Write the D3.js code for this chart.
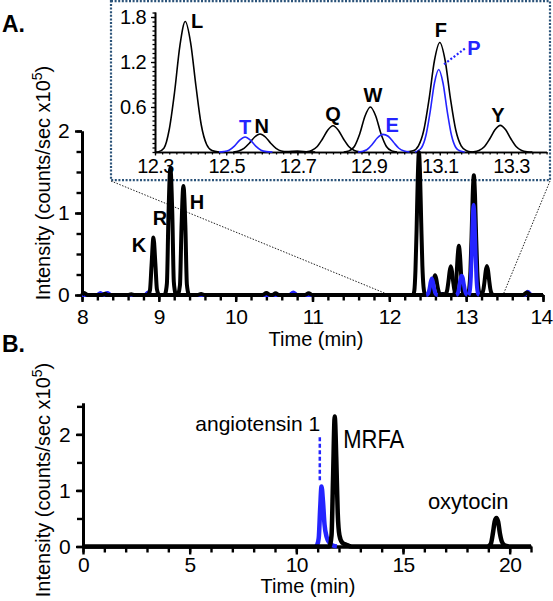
<!DOCTYPE html>
<html><head><meta charset="utf-8">
<script src="https://cdn.jsdelivr.net/npm/d3@7"></script>
<style>
body{margin:0;background:#fff}
svg{display:block}
text{font-family:"Liberation Sans",Arial,Helvetica,sans-serif;fill:#000}
</style>
</head><body>
<svg id="c" width="553" height="601"></svg>
<script>
// ---------- DATA (time in min, intensity in counts/sec x10^5) ----------
// Panel A - tick labels
const ticksAx = [8, 9, 10, 11, 12, 13, 14];
const ticksAy = [0, 1, 2];
const ticksInsetX = [12.3, 12.5, 12.7, 12.9, 13.1, 13.3];
const ticksInsetY = [0.6, 1.2, 1.8];
// Panel A - black extracted-ion traces
const peakK = [[8.86,0],[8.885,0.06],[8.905,0.36],[8.93,0.70],[8.955,0.38],[8.975,0.07],[9.0,0]];
const peakR = [[9.08,0],[9.105,0.14],[9.125,0.95],[9.15,1.55],[9.175,1.0],[9.195,0.16],[9.22,0]];
const peakH = [[9.25,0],[9.275,0.12],[9.295,0.82],[9.32,1.33],[9.345,0.85],[9.365,0.13],[9.39,0]];
const peakL = [[12.30,0],[12.31,0.004],[12.325,0.05],[12.34,0.30],[12.355,0.80],[12.37,1.42],[12.385,1.74],[12.40,1.46],[12.415,0.88],[12.43,0.36],[12.445,0.10],[12.46,0.02],[12.48,0]];
const peakN = [[12.52,0],[12.535,0.013],[12.55,0.048],[12.565,0.117],[12.58,0.20],[12.595,0.24],[12.61,0.20],[12.625,0.117],[12.64,0.048],[12.655,0.013],[12.67,0.006],[12.70,0.012],[12.73,0.003],[12.75,0]];
const peakQ = [[12.71,0],[12.725,0.004],[12.74,0.02],[12.755,0.07],[12.77,0.17],[12.785,0.29],[12.80,0.35],[12.815,0.29],[12.83,0.17],[12.845,0.07],[12.86,0.02],[12.875,0.004],[12.89,0]];
const peakW = [[12.83,0],[12.845,0.015],[12.86,0.074],[12.875,0.24],[12.89,0.48],[12.905,0.60],[12.92,0.48],[12.935,0.24],[12.95,0.074],[12.965,0.015],[12.98,0]];
const peakF = [[13.0,0],[13.025,0.016],[13.04,0.082],[13.055,0.29],[13.07,0.71],[13.085,1.22],[13.10,1.46],[13.115,1.22],[13.13,0.71],[13.145,0.29],[13.16,0.082],[13.175,0.016],[13.19,0]];
const peakY = [[13.18,0],[13.195,0.004],[13.21,0.02],[13.225,0.07],[13.24,0.173],[13.255,0.296],[13.27,0.355],[13.285,0.296],[13.30,0.173],[13.315,0.07],[13.33,0.02],[13.345,0.004],[13.36,0]];
const baseBlackA = [[8,0],[8.03,0.025],[8.07,0],[8.26,0],[8.3,0.015],[8.34,0],[8.6,0],[8.64,0.01],[8.68,0],[9.5,0],[9.55,0.012],[9.6,0],[10.35,0],[10.4,0.025],[10.45,0],[10.48,0],[10.52,0.02],[10.56,0],[10.9,0],[10.95,0.02],[11.0,0],[13.74,0],[13.79,0.03],[13.84,0],[14,0]];
// Panel A - blue extracted-ion traces
const peakT = [[12.48,0],[12.493,0.005],[12.508,0.024],[12.523,0.078],[12.538,0.158],[12.553,0.20],[12.568,0.158],[12.583,0.078],[12.598,0.024],[12.613,0.005],[12.63,0]];
const peakE = [[12.87,0],[12.88,0.006],[12.895,0.03],[12.91,0.10],[12.925,0.19],[12.94,0.235],[12.955,0.21],[12.97,0.13],[12.985,0.05],[13.0,0.012],[13.015,0]];
const peakP = [[13.03,0],[13.037,0.012],[13.049,0.06],[13.061,0.22],[13.073,0.54],[13.085,0.92],[13.097,1.10],[13.109,0.92],[13.121,0.54],[13.133,0.22],[13.145,0.06],[13.157,0.012],[13.17,0]];
const baseBlueA = [[8,0],[8.2,0],[8.24,0.025],[8.28,0],[8.33,0.025],[8.38,0],[8.82,0],[8.86,0.03],[8.9,0],[10.7,0],[10.75,0.03],[10.8,0],[12.64,0],[12.68,0.012],[12.72,0],[13.76,0],[13.8,0.04],[13.85,0],[14,0]];
// Panel B
const ticksBx = [0, 5, 10, 15, 20];
const ticksBy = [0, 1, 2];
const angiotensinB = [[10.9,0],[10.98,0.03],[11.05,0.15],[11.12,0.7],[11.18,1.07],[11.25,0.8],[11.32,0.4],[11.42,0.17],[11.55,0.07],[11.7,0.02],[11.9,0]];
const mrfaB = [[0,0],[11.55,0],[11.65,0.2],[11.72,1.2],[11.8,2.32],[11.87,1.6],[11.94,0.6],[12.02,0.2],[12.15,0.07],[12.35,0.03],[12.6,0],[21,0]];
const oxytocinB = [[19.0,0],[19.12,0.05],[19.22,0.25],[19.3,0.45],[19.38,0.51],[19.46,0.44],[19.54,0.24],[19.64,0.08],[19.78,0.015],[19.95,0]];

// ---------- DRAWING ----------
const svg = d3.select("#c");
const BLUE = "#2424ff", BOX = "#2b5379";
const fmtInt = d3.format("d"), fmt1 = d3.format(".1f");

const xA = d3.scaleLinear().domain([8,14]).range([82,543]);
const yA = d3.scaleLinear().domain([0,2]).range([295,131]);
const xI = d3.scaleLinear().domain([12.3,13.4]).range([155,546.6]);
const yI = d3.scaleLinear().domain([0,1.867]).range([152,12]);
const xB = d3.scaleLinear().domain([0,21]).range([83,531]);
const yB = d3.scaleLinear().domain([0,2.56]).range([546.5,403]);

function styleAxis(g, sw, fs){
  g.attr("font-family", null).attr("font-size", null);
  g.select(".domain").attr("stroke","#000").attr("stroke-width",sw);
  g.selectAll(".tick line").attr("stroke","#000").attr("stroke-width",sw*0.8);
  g.selectAll(".tick text").attr("font-size",fs).attr("fill","#000").attr("letter-spacing","-0.6px");
}

// ---- Inset box and connectors
svg.append("rect").attr("x",111).attr("y",1.2).attr("width",439).attr("height",179)
  .attr("fill","none").attr("stroke",BOX).attr("stroke-width",2.2).attr("stroke-dasharray","2,1.6");
svg.append("line").attr("x1",111).attr("y1",181).attr("x2",xA(12)).attr("y2",yA(0))
  .attr("stroke","#222").attr("stroke-width",1).attr("stroke-dasharray","1.5,1.5");
svg.append("line").attr("x1",550).attr("y1",181).attr("x2",xA(13.48)).attr("y2",yA(0))
  .attr("stroke","#222").attr("stroke-width",1).attr("stroke-dasharray","1.5,1.5");

// ---- Inset axes
const gIxm = svg.append("g").attr("transform",`translate(0,${yI(0)})`)
  .call(d3.axisBottom(xI).tickValues(d3.range(12.3,13.401,0.02)).tickSize(2.5).tickSizeOuter(0).tickFormat(""));
styleAxis(gIxm,1.6,20);
const gIx = svg.append("g").attr("transform",`translate(0,${yI(0)})`)
  .call(d3.axisBottom(xI).tickValues(ticksInsetX).tickSize(3.5).tickSizeOuter(0).tickPadding(3).tickFormat(fmt1));
styleAxis(gIx,1.6,20);
const gIym = svg.append("g").attr("transform",`translate(${xI(12.3)},0)`)
  .call(d3.axisLeft(yI).tickValues(d3.range(0,1.87,0.06)).tickSize(2.5).tickSizeOuter(0).tickFormat(""));
styleAxis(gIym,1.6,20);
const gIy = svg.append("g").attr("transform",`translate(${xI(12.3)},0)`)
  .call(d3.axisLeft(yI).tickValues(ticksInsetY).tickSize(4).tickSizeOuter(0).tickPadding(5).tickFormat(fmt1));
styleAxis(gIy,1.6,20);

// ---- Inset traces
svg.append("clipPath").attr("id","ic").append("rect").attr("x",xI(12.3)).attr("y",8).attr("width",xI(13.4)-xI(12.3)).attr("height",yI(0)-7);
const lineI = d3.line().x(d=>xI(d[0])).y(d=>yI(d[1])).curve(d3.curveMonotoneX);
const gI = svg.append("g").attr("clip-path","url(#ic)");
[peakL,peakN,peakQ,peakW,peakF,peakY].forEach(p=>{
  gI.append("path").attr("d",lineI(p)).attr("fill","none").attr("stroke","#000").attr("stroke-width",1.6);
});
[peakT,peakE,peakP].forEach(p=>{
  gI.append("path").attr("d",lineI(p)).attr("fill","none").attr("stroke",BLUE).attr("stroke-width",1.6);
});
// P pointer
svg.append("line").attr("x1",xI(13.112)).attr("y1",yI(1.17)).attr("x2",xI(13.172)).attr("y2",yI(1.385))
  .attr("stroke",BLUE).attr("stroke-width",2.2).attr("stroke-dasharray","2,2");
// inset labels
const insetLabels = [["L",12.418,1.653,"#000"],["T",12.553,0.235,BLUE],["N",12.60,0.25,"#000"],["Q",12.80,0.41,"#000"],
  ["W",12.912,0.667,"#000"],["E",12.966,0.262,BLUE],["F",13.103,1.533,"#000"],["P",13.196,1.293,BLUE],["Y",13.263,0.40,"#000"]];
insetLabels.forEach(l=>{
  svg.append("text").attr("x",xI(l[1])).attr("y",yI(l[2])).attr("text-anchor","middle")
    .attr("font-size",20).attr("font-weight","bold").style("fill",l[3]).text(l[0]);
});

// ---- Main A axes
const gAxm = svg.append("g").attr("transform",`translate(0,${yA(0)})`)
  .call(d3.axisBottom(xA).tickValues(d3.range(8,14.01,0.2)).tickSize(5.5).tickSizeOuter(0).tickFormat(""));
styleAxis(gAxm,3,21);
const gAx = svg.append("g").attr("transform",`translate(0,${yA(0)})`)
  .call(d3.axisBottom(xA).tickValues(ticksAx).tickSize(7).tickSizeOuter(0).tickPadding(7).tickFormat(fmtInt));
styleAxis(gAx,3,21);
gAx.selectAll(".tick text").filter(d=>d===14).attr("dx",-2);
const gAym = svg.append("g").attr("transform",`translate(${xA(8)},0)`)
  .call(d3.axisLeft(yA).tickValues(d3.range(0,2.01,0.25)).tickSize(5.5).tickSizeOuter(0).tickFormat(""));
styleAxis(gAym,3,21);
const gAy = svg.append("g").attr("transform",`translate(${xA(8)},0)`)
  .call(d3.axisLeft(yA).tickValues(ticksAy).tickSize(7).tickSizeOuter(0).tickPadding(6).tickFormat(fmtInt));
styleAxis(gAy,3,21);

// ---- Main A traces
const lineA = d3.line().x(d=>xA(d[0])).y(d=>yA(d[1])).curve(d3.curveMonotoneX);
svg.append("path").attr("d",lineA(baseBlueA)).attr("fill","none").attr("stroke",BLUE).attr("stroke-width",4).attr("stroke-linejoin","round");
[baseBlackA,peakK,peakR,peakH,peakL,peakN,peakQ,peakW,peakF,peakY].forEach(p=>{
  svg.append("path").attr("d",lineA(p)).attr("fill","none").attr("stroke","#000").attr("stroke-width",4).attr("stroke-linejoin","round");
});
[peakT,peakE,peakP].forEach(p=>{
  svg.append("path").attr("d",lineA(p)).attr("fill","none").attr("stroke",BLUE).attr("stroke-width",4).attr("stroke-linejoin","round");
});
const mainLabels = [["K",8.742,0.524],["R",9.016,0.854],["H",9.497,1.049]];
mainLabels.forEach(l=>{
  svg.append("text").attr("x",xA(l[1])).attr("y",yA(l[2])).attr("text-anchor","middle")
    .attr("font-size",20).attr("font-weight","bold").text(l[0]);
});

// ---- Panel titles
svg.append("text").attr("x",2).attr("y",32).attr("font-size",23).attr("font-weight","bold").text("A.");
svg.append("text").attr("x",2).attr("y",352).attr("font-size",23).attr("font-weight","bold").text("B.");

function yTitle(cx, cy){
  const t = svg.append("text").attr("transform",`translate(${cx},${cy}) rotate(-90)`)
    .attr("text-anchor","middle").attr("font-size",20);
  t.append("tspan").text("Intensity (counts/sec x10");
  t.append("tspan").attr("font-size",14).attr("dy",-8).text("5");
  t.append("tspan").attr("dy",8).text(")");
}
yTitle(50,183);
svg.append("text").attr("x",316).attr("y",346).attr("text-anchor","middle").attr("font-size",20).text("Time (min)");

// ---- Panel B
const gBxm = svg.append("g").attr("transform",`translate(0,${yB(0)})`)
  .call(d3.axisBottom(xB).tickValues(d3.range(0,21.01,1)).tickSize(6).tickSizeOuter(0).tickFormat(""));
styleAxis(gBxm,3,21);
const gBx = svg.append("g").attr("transform",`translate(0,${yB(0)})`)
  .call(d3.axisBottom(xB).tickValues(ticksBx).tickSize(8).tickSizeOuter(0).tickPadding(3).tickFormat(fmtInt));
styleAxis(gBx,3,21);
const gBym = svg.append("g").attr("transform",`translate(${xB(0)},0)`)
  .call(d3.axisLeft(yB).tickValues(d3.range(0,2.51,0.5)).tickSize(6).tickSizeOuter(0).tickFormat(""));
styleAxis(gBym,3,21);
const gBy = svg.append("g").attr("transform",`translate(${xB(0)},0)`)
  .call(d3.axisLeft(yB).tickValues(ticksBy).tickSize(7).tickSizeOuter(0).tickPadding(6).tickFormat(fmtInt));
styleAxis(gBy,3,21);

const lineB = d3.line().x(d=>xB(d[0])).y(d=>yB(d[1])).curve(d3.curveMonotoneX);
svg.append("path").attr("d",lineB(angiotensinB)).attr("fill","none").attr("stroke",BLUE).attr("stroke-width",4.5).attr("stroke-linejoin","round");
[mrfaB,oxytocinB].forEach(p=>{
  svg.append("path").attr("d",lineB(p)).attr("fill","none").attr("stroke","#000").attr("stroke-width",4.5).attr("stroke-linejoin","round");
});
svg.append("line").attr("x1",xB(11.1)).attr("x2",xB(11.1)).attr("y1",yB(1.95)).attr("y2",yB(1.18))
  .attr("stroke",BLUE).attr("stroke-width",2.5).attr("stroke-dasharray","4,2.5");
svg.append("text").attr("x",xB(11.12)).attr("y",431).attr("text-anchor","end").attr("font-size",21).text("angiotensin 1");
svg.append("text").attr("x",xB(12.2)).attr("y",448).attr("font-size",25).attr("textLength",61).attr("lengthAdjust","spacingAndGlyphs").text("MRFA");
svg.append("text").attr("x",xB(19.95)).attr("y",509).attr("text-anchor","end").attr("font-size",22).text("oxytocin");

yTitle(50,480);
svg.append("text").attr("x",308).attr("y",593).attr("text-anchor","middle").attr("font-size",20).text("Time (min)");
</script>
</body></html>
